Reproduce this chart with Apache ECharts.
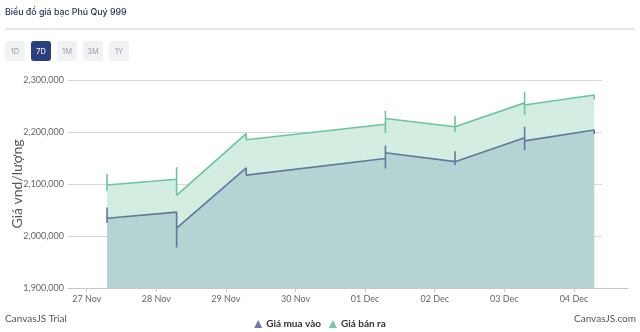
<!DOCTYPE html>
<html>
<head>
<meta charset="utf-8">
<script src="https://cdn.jsdelivr.net/npm/echarts@6/dist/echarts.min.js"></script>
<style>
  html, body { margin: 0; padding: 0; background: #fff; width: 640px; height: 332px; overflow: hidden; }
  #chart { position: absolute; left: 0; top: 0; width: 640px; height: 332px; z-index: 1; }
  #head { position: absolute; left: 5px; top: 5px; z-index: 2; font-family: Inter, 'Noto Sans', sans-serif;
          font-size: 8.8px; font-weight: 500; color: #1f2b58; line-height: 14px; }
  #rule { position: absolute; left: 5px; right: 5px; top: 28px; height: 2px; background: #e4e6eb; z-index: 2; }
  #ranges { position: absolute; left: 5px; top: 41px; display: flex; gap: 6px; z-index: 2; }
  .btn { width: 20px; height: 20px; border-radius: 3px; background: #f1f2f4; color: #9aa0aa;
         font-family: Inter, 'Noto Sans', sans-serif; font-size: 7.5px;
         display: flex; align-items: center; justify-content: center; }
  .btn.on { background: #2b3e80; color: #fff; }
</style>
</head>
<body>
<div id="chart"></div>
<div id="head">Biểu đồ giá bạc Phú Quý 999</div>
<div id="rule"></div>
<div id="ranges">
  <div class="btn">1D</div><div class="btn on">7D</div><div class="btn">1M</div><div class="btn">3M</div><div class="btn">1Y</div>
</div>
<script>
// Calendar ticks on the time axis
const tickDates = ['2024-11-27', '2024-11-28', '2024-11-29', '2024-11-30', '2024-12-01', '2024-12-02', '2024-12-03', '2024-12-04'];
const tickLabels = ['27 Nov', '28 Nov', '29 Nov', '30 Nov', '01 Dec', '02 Dec', '03 Dec', '04 Dec'];

// Quote time for each trading day
const quoteTimes = ['2024-11-27T07:00', '2024-11-28T07:00', '2024-11-29T07:00', '2024-12-01T07:00',
                    '2024-12-02T07:00', '2024-12-03T07:00', '2024-12-04T07:00'];

// Successive price updates within each day (vnd/lượng)
const buyQuotes = [
  [2055000, 2025000, 2034000],
  [2046000, 1978000, 2015000],
  [2131000, 2117000],
  [2149000, 2174000, 2130000, 2160000],
  [2143000, 2163000, 2136000, 2143000],
  [2189000, 2210000, 2165000, 2183000],
  [2204000, 2196000]
];
const sellQuotes = [
  [2119000, 2087000, 2098000],
  [2109000, 2132000, 2078000],
  [2197000, 2185000],
  [2215000, 2241000, 2198000, 2226000],
  [2210000, 2231000, 2200000, 2210000],
  [2256000, 2277000, 2233000, 2252000],
  [2271000, 2263000]
];

const yTicks = [1900000, 2000000, 2100000, 2200000, 2300000];

const toMs = s => new Date(s + (s.length === 10 ? 'T00:00Z' : 'Z')).getTime();
const tickMs = tickDates.map(toMs);
const DAY = 86400000;

function toSeries(quotes) {
  const pts = [];
  quotes.forEach((day, i) => {
    const t = toMs(quoteTimes[i]);
    day.forEach(v => pts.push([t, v]));
  });
  return pts;
}

const labelFont = { fontFamily: 'Lato, sans-serif', fontSize: 9, color: '#666' };
const xMin = tickMs[0] - 0.269 * DAY;
const xMax = tickMs[0] + 7.777 * DAY;

const chart = echarts.init(document.getElementById('chart'), null, { renderer: 'canvas' });
chart.setOption({
  animation: false,
  grid: [
    { left: 68, right: 12, top: 80, bottom: 44 },
    { left: 68, right: 38, top: 80, bottom: 44 }
  ],
  xAxis: [
    {
      type: 'value', gridIndex: 0, min: xMin, max: xMax,
      axisLine: { show: true, lineStyle: { color: '#c8c8c8', width: 1 } },
      axisTick: { show: true, length: 4, customValues: tickMs, lineStyle: { color: '#c8c8c8' } },
      axisLabel: Object.assign({ show: true, margin: 7, customValues: tickMs,
        formatter: v => tickLabels[tickMs.indexOf(v)] || '' }, labelFont),
      splitLine: { show: false }
    },
    { type: 'value', gridIndex: 1, show: false, min: 0, max: 1 }
  ],
  yAxis: [
    { type: 'value', gridIndex: 0, min: yTicks[0], max: yTicks[yTicks.length - 1], interval: 100000, show: false },
    {
      type: 'value', gridIndex: 1, min: yTicks[0], max: yTicks[yTicks.length - 1], interval: 100000,
      axisLine: { show: false }, axisTick: { show: false },
      axisLabel: Object.assign({ margin: 4, formatter: v => v.toLocaleString('en-US') }, labelFont),
      splitLine: { show: true, lineStyle: { color: '#d8d8d8', width: 1 } }
    }
  ],
  legend: {
    data: ['Giá mua vào', 'Giá bán ra'],
    left: 'center', top: 314,
    icon: 'triangle', itemWidth: 8, itemHeight: 8, itemGap: 8,
    textStyle: { fontFamily: 'Lato, sans-serif', fontSize: 10, fontWeight: 'bold', color: '#333', padding: [0, 0, 0, -1] }
  },
  graphic: [
    { type: 'text', left: 5, top: 314, style: { text: 'CanvasJS Trial', font: '10px Lato, sans-serif', fill: '#555' } },
    { type: 'text', right: 4, top: 314, style: { text: 'CanvasJS.com', font: '10px Lato, sans-serif', fill: '#555' } },
    { type: 'text', x: 17, y: 184, rotation: Math.PI / 2,
      style: { text: 'Giá vnd/lượng', font: '14px Lato, sans-serif', fill: '#555', align: 'center', verticalAlign: 'middle' } }
  ],
  series: [
    {
      name: 'Giá bán ra', type: 'line', xAxisIndex: 0, yAxisIndex: 0,
      data: toSeries(sellQuotes), showSymbol: false, smooth: false,
      itemStyle: { color: '#6fcaa0' },
      lineStyle: { color: '#6cc59c', width: 1.6 },
      areaStyle: { color: '#d3ede1', opacity: 1, origin: 'start' },
      emphasis: { disabled: true }, z: 2
    },
    {
      name: 'Giá mua vào', type: 'line', xAxisIndex: 0, yAxisIndex: 0,
      data: toSeries(buyQuotes), showSymbol: false, smooth: false,
      itemStyle: { color: '#6a78b6' },
      lineStyle: { color: '#5d7a9e', width: 1.6 },
      areaStyle: { color: '#b5d3d3', opacity: 1, origin: 'start' },
      emphasis: { disabled: true }, z: 3
    }
  ]
});
</script>
</body>
</html>
